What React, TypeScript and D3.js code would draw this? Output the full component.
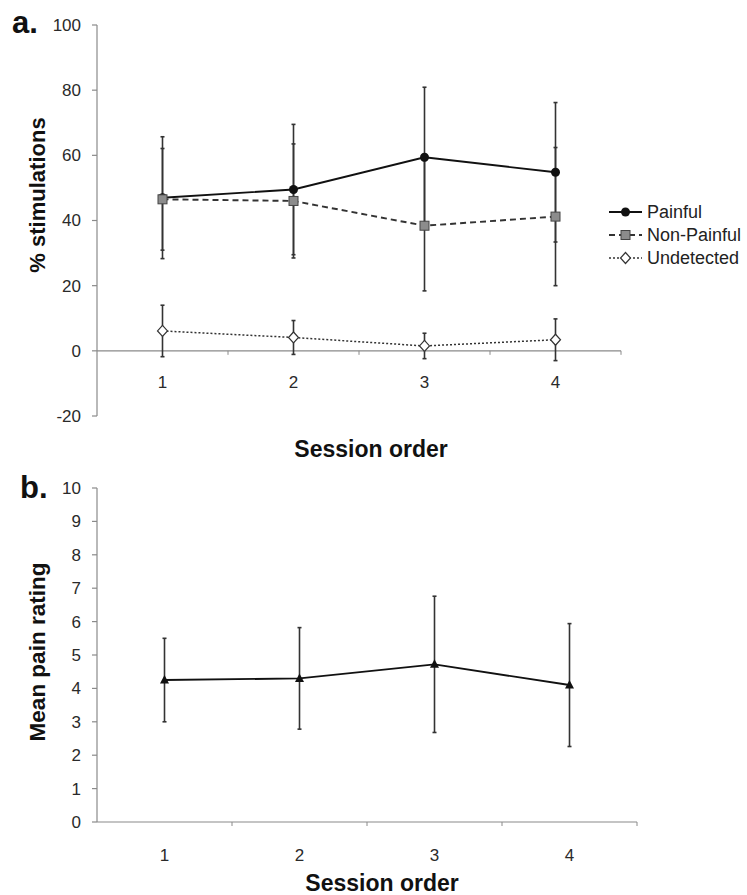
import React from "react";
import * as d3 from "d3";

const sessions = [1, 2, 3, 4];
const painful = [47, 49.5, 59.4, 54.8];
const painfulErr = [18.7, 20, 21.5, 21.4];
const nonPainful = [46.5, 46, 38.4, 41.2];
const nonPainfulErr = [15.6, 17.5, 20, 21.2];
const undetected = [6.1, 4.1, 1.5, 3.4];
const undetectedErr = [7.9, 5.2, 3.9, 6.4];
const painRating = [4.25, 4.3, 4.72, 4.1];
const painRatingErr = [1.25, 1.52, 2.04, 1.84];
const yTicksA = [-20, 0, 20, 40, 60, 80, 100];
const yTicksB = [0, 1, 2, 3, 4, 5, 6, 7, 8, 9, 10];
const legendLabels = ["Painful", "Non-Painful", "Undetected"];

const FONT = "'Liberation Sans', Arial, Helvetica, sans-serif";
const AXIS = "#8a8a8a";
const TXT = "#2a2a2a";
const BAR = "#333";

function Square({ x, y }: { x: number; y: number }) {
  return <rect x={x - 4.5} y={y - 4.5} width={9} height={9} fill="#8c8c8c" stroke="#444" strokeWidth={1} />;
}
function Circle({ x, y }: { x: number; y: number }) {
  return <circle cx={x} cy={y} r={4.5} fill="#111" />;
}
function Diamond({ x, y }: { x: number; y: number }) {
  return <path d={`M${x},${y - 5.5}L${x + 5},${y}L${x},${y + 5.5}L${x - 5},${y}Z`} fill="#fff" stroke="#333" strokeWidth={1.2} />;
}
function Tri({ x, y }: { x: number; y: number }) {
  return <path d={`M${x},${y - 5}L${x + 4.5},${y + 3.5}L${x - 4.5},${y + 3.5}Z`} fill="#111" />;
}

function ErrBar({ x, y1, y2 }: { x: number; y1: number; y2: number }) {
  return (
    <g stroke={BAR} strokeWidth={1.6}>
      <line x1={x} x2={x} y1={y1} y2={y2} />
      <line x1={x - 2} x2={x + 2} y1={y1} y2={y1} />
      <line x1={x - 2} x2={x + 2} y1={y2} y2={y2} />
    </g>
  );
}

export default function App() {
  const xA = d3.scaleLinear().domain([0.5, 4.5]).range([97, 621]);
  const yA = d3.scaleLinear().domain([-20, 100]).range([416, 25]);
  const xB = d3.scaleLinear().domain([0.5, 4.5]).range([97, 637]);
  const yB = d3.scaleLinear().domain([0, 10]).range([822, 488]);

  const lineA = (vals: number[]) =>
    d3.line<number>().x((_, i) => xA(sessions[i])).y((v) => yA(v))(vals) || "";
  const lineB = d3.line<number>().x((_, i) => xB(sessions[i])).y((v) => yB(v))(painRating) || "";

  const boundaries = [1.5, 2.5, 3.5, 4.5];

  return (
    <svg width={747} height={895} style={{ position: "absolute", left: 0, top: 0, background: "#fff" }} fontFamily={FONT}>
      {/* ---------- Panel a ---------- */}
      <text x={12} y={33} fontSize={31} fontWeight="bold" fill="#111">a.</text>
      <line x1={97} x2={97} y1={yA(100)} y2={yA(-20)} stroke={AXIS} strokeWidth={1.2} />
      {yTicksA.map((t) => (
        <g key={t}>
          <line x1={92} x2={97} y1={yA(t)} y2={yA(t)} stroke={AXIS} strokeWidth={1.2} />
          <text x={81} y={yA(t)} dy="0.35em" textAnchor="end" fontSize={17} fill={TXT}>{t}</text>
        </g>
      ))}
      <line x1={97} x2={621} y1={yA(0)} y2={yA(0)} stroke={AXIS} strokeWidth={1.2} />
      {boundaries.map((b) => (
        <line key={b} x1={xA(b)} x2={xA(b)} y1={yA(0)} y2={yA(0) + 4} stroke={AXIS} strokeWidth={1} />
      ))}
      {sessions.map((s) => (
        <text key={s} x={xA(s)} y={382} dy="0.35em" textAnchor="middle" fontSize={17} fill={TXT}>{s}</text>
      ))}
      <text x={371} y={457} textAnchor="middle" fontSize={23} fontWeight="bold" fill="#111">Session order</text>
      <text transform={`translate(45,195) rotate(-90)`} textAnchor="middle" fontSize={22} fontWeight="bold" fill="#111">% stimulations</text>

      {sessions.map((s, i) => (
        <g key={"eb" + s}>
          <ErrBar x={xA(s)} y1={yA(painful[i] + painfulErr[i])} y2={yA(painful[i] - painfulErr[i])} />
          <ErrBar x={xA(s)} y1={yA(nonPainful[i] + nonPainfulErr[i])} y2={yA(nonPainful[i] - nonPainfulErr[i])} />
          <ErrBar x={xA(s)} y1={yA(undetected[i] + undetectedErr[i])} y2={yA(undetected[i] - undetectedErr[i])} />
        </g>
      ))}
      <path d={lineA(painful)} fill="none" stroke="#111" strokeWidth={1.9} />
      <path d={lineA(nonPainful)} fill="none" stroke="#333" strokeWidth={1.9} strokeDasharray="6,4" />
      <path d={lineA(undetected)} fill="none" stroke="#333" strokeWidth={1.5} strokeDasharray="2,2" />
      {sessions.map((s, i) => (
        <g key={"mk" + s}>
          <Circle x={xA(s)} y={yA(painful[i])} />
          <Square x={xA(s)} y={yA(nonPainful[i])} />
          <Diamond x={xA(s)} y={yA(undetected[i])} />
        </g>
      ))}

      {legendLabels.map((lab, i) => {
        const ly = 212 + i * 23;
        return (
          <g key={lab}>
            {i === 0 && <line x1={609} x2={642} y1={ly} y2={ly} stroke="#111" strokeWidth={1.9} />}
            {i === 1 && <line x1={609} x2={642} y1={ly} y2={ly} stroke="#333" strokeWidth={1.9} strokeDasharray="6,4" />}
            {i === 2 && <line x1={609} x2={642} y1={ly} y2={ly} stroke="#333" strokeWidth={1.5} strokeDasharray="2,2" />}
            {i === 0 && <Circle x={625.5} y={ly} />}
            {i === 1 && <Square x={625.5} y={ly} />}
            {i === 2 && <Diamond x={625.5} y={ly} />}
            <text x={647} y={ly} dy="0.35em" fontSize={18} fill="#222">{lab}</text>
          </g>
        );
      })}

      {/* ---------- Panel b ---------- */}
      <text x={20} y={498} fontSize={31} fontWeight="bold" fill="#111">b.</text>
      <line x1={97} x2={97} y1={yB(10)} y2={yB(0)} stroke={AXIS} strokeWidth={1.2} />
      {yTicksB.map((t) => (
        <g key={t}>
          <line x1={92} x2={97} y1={yB(t)} y2={yB(t)} stroke={AXIS} strokeWidth={1.2} />
          <text x={81} y={yB(t)} dy="0.35em" textAnchor="end" fontSize={17} fill={TXT}>{t}</text>
        </g>
      ))}
      <line x1={97} x2={637} y1={yB(0)} y2={yB(0)} stroke={AXIS} strokeWidth={1.2} />
      {boundaries.map((b) => (
        <line key={b} x1={xB(b)} x2={xB(b)} y1={yB(0)} y2={yB(0) + 4} stroke={AXIS} strokeWidth={1} />
      ))}
      {sessions.map((s) => (
        <text key={s} x={xB(s)} y={855} dy="0.35em" textAnchor="middle" fontSize={17} fill={TXT}>{s}</text>
      ))}
      <text x={382} y={891} textAnchor="middle" fontSize={23} fontWeight="bold" fill="#111">Session order</text>
      <text transform={`translate(45,652) rotate(-90)`} textAnchor="middle" fontSize={22.5} fontWeight="bold" fill="#111">Mean pain rating</text>

      {sessions.map((s, i) => (
        <ErrBar key={"ebb" + s} x={xB(s)} y1={yB(painRating[i] + painRatingErr[i])} y2={yB(painRating[i] - painRatingErr[i])} />
      ))}
      <path d={lineB} fill="none" stroke="#111" strokeWidth={1.9} />
      {sessions.map((s, i) => (
        <Tri key={"tb" + s} x={xB(s)} y={yB(painRating[i])} />
      ))}
    </svg>
  );
}
